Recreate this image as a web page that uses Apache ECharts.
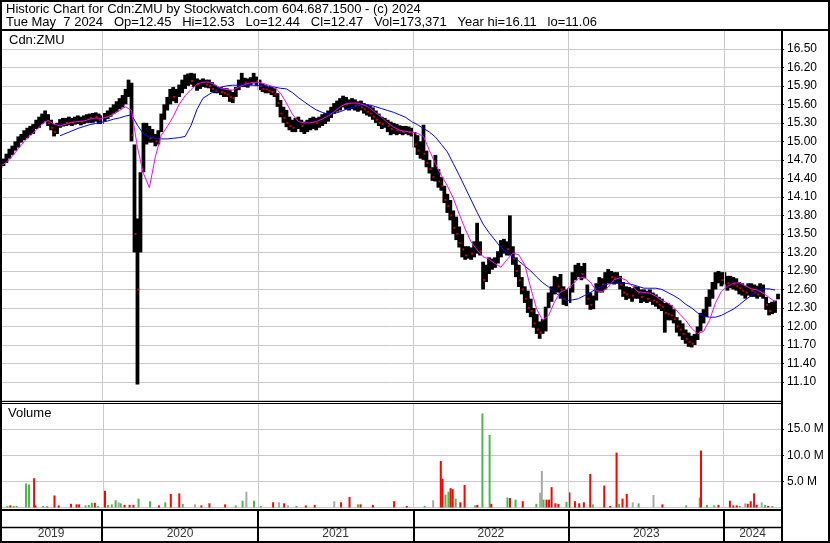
<!DOCTYPE html>
<html><head><meta charset="utf-8">
<script src="https://cdn.jsdelivr.net/npm/echarts@6/dist/echarts.min.js"></script>
<style>html,body{margin:0;padding:0;background:#fff}#c{width:830px;height:543px}</style>
</head><body><div id="c"></div>
<script>
// ---------------- DATA ----------------
const titleLine = 'Historic Chart for Cdn:ZMU by Stockwatch.com 604.687.1500 - (c) 2024';
const quoteLine = 'Tue May  7 2024   Op=12.45   Hi=12.53   Lo=12.44   Cl=12.47   Vol=173,371   Year hi=16.11   lo=11.06';
const symbolName = 'Cdn:ZMU';
const volumeName = 'Volume';
const years = ['2019','2020','2021','2022','2023','2024'];
const firstWeek = '2019-05-07';   // weekly samples, one per week
const axisStart = '2019-05-06', axisEnd = '2024-05-14';

const weekLow = [
14.57,14.60,14.65,14.72,14.78,14.85,14.90,14.98,15.02,15.05,
15.10,15.12,15.20,15.22,15.28,15.32,15.25,15.18,15.08,15.12,
15.22,15.24,15.25,15.26,15.25,15.27,15.28,15.26,15.28,15.30,
15.30,15.30,15.32,15.28,15.28,15.32,15.36,15.40,15.45,15.48,
15.52,15.55,15.60,15.72,15.00,13.20,11.06,13.20,14.50,14.95,
14.98,14.98,14.92,14.95,15.15,15.35,15.50,15.60,15.65,15.62,
15.72,15.78,15.85,15.90,15.92,15.88,15.82,15.85,15.88,15.87,
15.86,15.80,15.78,15.78,15.75,15.72,15.72,15.64,15.62,15.72,
15.83,15.88,15.88,15.87,15.91,15.94,15.90,15.83,15.80,15.78,
15.78,15.75,15.72,15.56,15.39,15.30,15.23,15.18,15.15,15.15,
15.20,15.15,15.12,15.15,15.18,15.20,15.18,15.22,15.25,15.28,
15.32,15.38,15.45,15.48,15.50,15.55,15.52,15.50,15.52,15.50,
15.48,15.50,15.45,15.42,15.40,15.35,15.30,15.25,15.20,15.22,
15.15,15.10,15.12,15.10,15.12,15.10,15.12,15.10,15.08,14.90,
14.78,14.72,14.70,14.58,14.48,14.36,14.35,14.25,14.20,14.00,
13.84,13.72,13.50,13.40,13.28,13.12,13.08,13.10,13.08,13.12,
13.18,13.15,12.60,12.72,12.85,12.92,12.95,13.02,13.12,13.18,
13.15,13.15,13.00,12.80,12.64,12.52,12.38,12.22,12.15,11.98,
11.88,11.80,11.88,11.92,12.30,12.40,12.52,12.55,12.45,12.35,
12.33,12.38,12.55,12.75,12.80,12.75,12.78,12.35,12.27,12.28,
12.42,12.55,12.55,12.60,12.70,12.70,12.68,12.70,12.60,12.48,
12.43,12.45,12.40,12.45,12.45,12.38,12.40,12.38,12.40,12.35,
12.32,12.28,12.25,11.90,12.10,12.10,12.05,11.90,11.84,11.78,
11.72,11.67,11.66,11.70,11.78,11.92,12.05,12.15,12.32,12.45,
12.60,12.70,12.65,12.68,12.58,12.62,12.60,12.58,12.52,12.50,
12.45,12.50,12.48,12.48,12.45,12.48,12.45,12.27,12.18,12.20,
12.22,12.44];
const weekHigh = [
14.68,14.72,14.80,14.88,14.93,15.00,15.08,15.12,15.18,15.22,
15.25,15.28,15.35,15.40,15.45,15.50,15.44,15.35,15.28,15.30,
15.36,15.38,15.38,15.40,15.38,15.40,15.42,15.40,15.42,15.44,
15.45,15.46,15.47,15.45,15.42,15.46,15.50,15.55,15.60,15.65,
15.70,15.75,15.85,16.00,15.95,14.95,13.75,14.50,15.30,15.30,
15.25,15.20,15.12,15.18,15.45,15.60,15.72,15.85,15.88,15.85,
15.92,16.00,16.08,16.10,16.11,16.10,16.02,16.00,16.02,16.00,
16.00,15.96,15.91,15.88,15.88,15.86,15.86,15.83,15.80,15.88,
16.00,16.11,16.03,16.02,16.04,16.11,16.05,16.00,15.94,15.91,
15.88,15.88,15.86,15.78,15.67,15.56,15.51,15.40,15.35,15.38,
15.40,15.35,15.32,15.35,15.38,15.40,15.38,15.40,15.44,15.46,
15.50,15.56,15.62,15.66,15.70,15.74,15.72,15.68,15.70,15.68,
15.65,15.66,15.62,15.60,15.58,15.55,15.50,15.45,15.40,15.38,
15.35,15.32,15.30,15.28,15.26,15.25,15.25,15.24,15.22,15.15,
15.10,15.00,15.27,14.85,14.70,14.58,14.78,14.55,14.42,14.28,
14.15,14.05,13.88,13.78,13.62,13.50,13.30,13.30,13.28,13.38,
13.68,13.38,13.05,13.00,13.12,13.10,13.12,13.22,13.40,13.42,
13.38,13.80,13.30,13.12,13.00,12.80,12.65,12.58,12.45,12.30,
12.20,12.08,12.12,12.32,12.55,12.65,12.82,12.80,12.85,12.65,
12.60,12.62,12.88,13.00,13.03,12.98,13.03,12.68,12.55,12.50,
12.70,12.80,12.78,12.88,12.93,12.90,12.88,12.88,12.82,12.72,
12.65,12.64,12.62,12.65,12.64,12.60,12.60,12.58,12.60,12.55,
12.52,12.48,12.45,12.38,12.38,12.35,12.28,12.15,12.10,12.05,
11.95,11.90,11.85,11.88,12.00,12.22,12.28,12.48,12.60,12.72,
12.88,12.90,12.88,12.88,12.82,12.82,12.80,12.78,12.72,12.70,
12.66,12.70,12.70,12.68,12.66,12.70,12.68,12.48,12.38,12.40,
12.42,12.53];
const weekClose = [
14.62,14.68,14.75,14.82,14.90,14.95,15.05,15.06,15.15,15.18,
15.20,15.25,15.30,15.35,15.40,15.42,15.30,15.22,15.15,15.25,
15.30,15.32,15.30,15.35,15.30,15.34,15.36,15.32,15.38,15.40,
15.38,15.42,15.40,15.35,15.38,15.42,15.45,15.50,15.55,15.60,
15.62,15.70,15.80,15.90,15.10,13.50,12.60,14.20,15.10,15.15,
15.05,15.10,15.00,15.15,15.40,15.55,15.65,15.78,15.72,15.78,
15.85,15.92,16.00,16.05,15.98,16.02,15.92,15.95,15.96,15.92,
15.90,15.85,15.82,15.82,15.80,15.78,15.76,15.72,15.70,15.82,
15.92,15.98,15.95,15.96,15.98,16.02,15.98,15.90,15.85,15.84,
15.82,15.80,15.76,15.62,15.45,15.38,15.30,15.25,15.22,15.28,
15.30,15.25,15.28,15.30,15.32,15.35,15.30,15.36,15.40,15.42,
15.45,15.52,15.58,15.60,15.65,15.68,15.60,15.62,15.65,15.58,
15.60,15.55,15.52,15.48,15.45,15.40,15.35,15.30,15.28,15.30,
15.25,15.20,15.22,15.18,15.20,15.15,15.20,15.15,15.12,14.95,
14.85,14.90,14.80,14.65,14.55,14.42,14.45,14.35,14.28,14.05,
13.95,13.80,13.60,13.50,13.35,13.25,13.15,13.20,13.18,13.30,
13.30,13.22,12.75,12.85,12.95,13.00,13.05,13.15,13.30,13.35,
13.25,13.30,13.10,12.90,12.75,12.60,12.45,12.30,12.25,12.05,
11.95,11.90,12.00,12.10,12.45,12.55,12.70,12.65,12.60,12.45,
12.50,12.55,12.80,12.90,12.92,12.85,12.88,12.45,12.35,12.40,
12.60,12.70,12.68,12.75,12.85,12.80,12.78,12.80,12.68,12.55,
12.52,12.55,12.50,12.58,12.55,12.48,12.52,12.45,12.50,12.42,
12.40,12.35,12.32,12.22,12.20,12.18,12.12,12.00,11.95,11.88,
11.80,11.75,11.72,11.80,11.92,12.10,12.20,12.38,12.50,12.65,
12.80,12.82,12.75,12.78,12.70,12.72,12.68,12.65,12.62,12.58,
12.55,12.62,12.58,12.55,12.52,12.60,12.55,12.35,12.25,12.28,
12.30,12.47];
// moving averages, read every second week
const maShort = [
14.60,14.66,14.76,14.88,15.00,15.10,15.18,15.28,15.34,15.28,
15.25,15.28,15.31,15.32,15.33,15.36,15.38,15.37,15.40,15.44,
15.50,15.56,15.50,14.90,14.48,14.25,14.75,15.10,15.24,15.40,
15.60,15.74,15.84,15.93,15.96,15.96,15.92,15.86,15.84,15.83,
15.88,15.92,15.95,15.96,15.94,15.91,15.88,15.78,15.62,15.44,
15.32,15.30,15.30,15.32,15.36,15.41,15.48,15.56,15.61,15.62,
15.62,15.59,15.54,15.46,15.39,15.30,15.23,15.18,15.16,15.15,
15.13,15.08,14.85,14.64,14.45,14.28,14.08,13.82,13.58,13.37,
13.24,13.13,13.09,13.02,12.96,13.08,13.19,13.16,13.00,12.62,
12.28,12.10,12.18,12.40,12.56,12.60,12.68,12.78,12.80,12.72,
12.58,12.56,12.64,12.76,12.79,12.75,12.66,12.56,12.55,12.54,
12.49,12.42,12.38,12.31,12.20,12.10,11.97,11.88,11.92,12.10,
12.38,12.57,12.65,12.70,12.71,12.66,12.61,12.59,12.54,12.47,12.40];
const maLong = [
null,null,null,null,null,null,null,null,null,null,
15.09,15.13,15.17,15.21,15.24,15.27,15.29,15.31,15.33,15.36,
15.38,15.41,15.43,15.26,15.12,15.07,15.05,15.04,15.04,15.05,
15.06,15.08,15.26,15.52,15.70,15.76,15.82,15.88,15.90,15.91,
15.91,15.91,15.91,15.91,15.90,15.89,15.88,15.86,15.85,15.79,
15.71,15.64,15.57,15.51,15.47,15.44,15.45,15.48,15.52,15.55,
15.58,15.59,15.59,15.56,15.53,15.50,15.47,15.43,15.39,15.32,
15.27,15.21,15.15,15.07,14.95,14.83,14.64,14.45,14.25,14.05,
13.85,13.66,13.52,13.40,13.28,13.20,13.13,13.06,12.98,12.90,
12.80,12.71,12.64,12.56,12.48,12.42,12.43,12.45,12.50,12.55,
12.61,12.65,12.69,12.70,12.70,12.70,12.68,12.65,12.62,12.62,
12.62,12.60,12.55,12.50,12.44,12.36,12.30,12.22,12.17,12.15,
12.15,12.18,12.23,12.28,12.35,12.43,12.50,12.56,12.61,12.61,12.59];

// volume (millions); kind: u = up day, d = down day, n = unchanged
const volDates = [
'2019-05-21','2019-05-28','2019-06-05','2019-06-12','2019-07-04','2019-07-11','2019-07-23','2019-07-26','2019-08-13','2019-08-23',
'2019-09-09','2019-09-19','2019-10-18','2019-10-31','2019-11-06','2019-11-21','2019-11-29','2019-12-06','2019-12-13','2019-12-20',
'2020-01-06','2020-01-13','2020-01-22','2020-01-31','2020-02-07','2020-02-12','2020-02-21','2020-03-04','2020-03-13','2020-03-25',
'2020-04-21','2020-05-12','2020-05-27','2020-06-09','2020-06-29','2020-07-07','2020-08-05','2020-08-20','2020-09-08','2020-10-15',
'2020-11-09','2020-11-25','2020-12-04','2020-12-22',
'2021-01-07','2021-02-05','2021-02-19','2021-03-03','2021-03-12','2021-04-01','2021-04-23','2021-05-14','2021-06-29','2021-07-15',
'2021-08-04','2021-08-24','2021-08-30','2021-09-28','2021-11-17','2021-12-17',
'2022-01-28','2022-02-17','2022-03-07','2022-03-11','2022-03-18','2022-03-25','2022-03-30','2022-04-04','2022-04-11','2022-04-22',
'2022-05-02','2022-05-27','2022-06-01','2022-06-13','2022-06-30','2022-07-04','2022-08-11','2022-08-17','2022-08-30','2022-09-16',
'2022-10-18','2022-10-27','2022-10-31','2022-11-04','2022-11-11','2022-11-17','2022-11-23','2022-12-02','2022-12-09',
'2022-12-28','2023-01-04','2023-01-17','2023-01-27','2023-02-07','2023-02-22','2023-02-28','2023-03-27','2023-04-10','2023-04-25',
'2023-05-01','2023-05-09','2023-05-19','2023-06-02','2023-06-16','2023-07-21','2023-08-11','2023-10-06','2023-11-07','2023-11-10',
'2023-11-24','2023-12-11','2023-12-21',
'2024-01-17','2024-01-25','2024-02-02','2024-02-09','2024-02-22','2024-02-28','2024-03-06','2024-03-14','2024-03-20','2024-04-01',
'2024-04-09','2024-04-16','2024-04-26'];
const volValues = [
0.3,0.4,0.3,0.3,4.6,4.4,5.6,0.4,0.3,0.2,2.3,0.4,0.7,0.6,0.6,0.4,0.5,0.9,0.9,0.3,
3.2,0.5,0.6,1.4,1.0,0.8,0.5,0.5,0.5,1.7,1.2,0.4,1.0,2.6,2.7,0.7,0.6,0.4,0.8,0.6,0.4,1.3,3.0,1.3,
0.3,1.0,1.0,0.8,0.4,0.3,0.4,0.5,1.2,1.0,2.0,0.6,0.6,0.5,1.2,0.3,
0.3,1.4,8.9,5.5,2.5,3.0,3.7,3.5,1.7,1.0,4.3,0.4,0.5,18.0,13.9,0.7,1.9,1.8,1.5,1.2,0.7,2.8,7.0,1.5,1.5,1.5,3.9,0.8,0.7,
1.1,2.9,1.2,0.8,1.0,6.4,0.6,4.2,0.3,10.5,0.7,1.7,2.6,1.0,0.8,2.4,0.6,0.4,1.9,10.9,0.5,0.4,0.5,
1.3,0.4,0.4,0.3,0.8,0.7,1.2,2.7,0.5,1.0,0.5,0.3,0.3];
const volKinds = ('uduuuuddudddddduuudu' + 'duuunuddduududdunddduunu' + 'udndnuddnddudddd' +
  'undduuddudduduudududunnuddddd' + 'uddddduddduddnunduuduud' + 'dddunddddnudu').split('');

const priceMin = 10.8, priceMax = 16.8, priceStep = 0.3;
const volMax = 20, volStep = 5;

// ---------------- BUILD ----------------
const DAY = 86400000;
const ts = s => { const p = s.split('-').map(Number); return Date.UTC(p[0], p[1]-1, p[2]); };
const t0 = ts(firstWeek);
const weekTimes = weekLow.map((_, i) => t0 + i * 7 * DAY);
const maTimes = maShort.map((_, j) => weekTimes[2 * j]);
const axisMin = ts(axisStart), axisMax = ts(axisEnd);
const yearTimes = years.map(y => ts(y + '-01-01'));
const yearBounds = yearTimes.slice(1);
const yearMids = years.map((y, i) => {
  const a = Math.max(yearTimes[i], axisMin);
  const b = i + 1 < years.length ? Math.min(yearTimes[i + 1], axisMax) : axisMax;
  return (a + b) / 2;
});
// red close ticks on weeks that closed lower than the week before
const downTicks = [];
weekTimes.forEach((t, i) => { if (i > 0 && weekClose[i] < weekClose[i - 1]) downTicks.push([t, weekClose[i]]); });

const FONT = '"Liberation Sans", Arial, sans-serif';
const kindColor = { u: '#4cb84c', d: '#ff0000', n: '#a8a8a8' };
const GRID = '#c8c8c8';

const xBase = { type: 'time', min: axisMin, max: axisMax, axisLine: {show:false}, axisTick: {show:false},
  axisLabel: {show:false}, splitLine: {show:false} };

const chart = echarts.init(document.getElementById('c'), null, { renderer: 'canvas' });
const W = 781;
chart.setOption({
  animation: false,
  backgroundColor: '#fff',
  grid: [
    { left: 0, width: W, top: 30.3, height: 370.2 },
    { left: 0, width: W, top: 403, height: 104.5 },
    { left: 0, width: W, top: 510, height: 31 }
  ],
  xAxis: [ Object.assign({gridIndex:0}, xBase), Object.assign({gridIndex:1}, xBase), Object.assign({gridIndex:2}, xBase) ],
  yAxis: [
    { gridIndex: 0, position: 'right', min: priceMin, max: priceMax, interval: priceStep,
      axisLine: {show:false}, axisTick: {show:true, length:3, lineStyle:{color:'#000'}},
      axisLabel: { color:'#000', fontSize:12, fontFamily: FONT, margin: 6, showMinLabel:false, showMaxLabel:false,
        formatter: v => v.toFixed(2) },
      splitLine: { show:true, lineStyle:{ color: GRID, width: 1 } } },
    { gridIndex: 1, position: 'right', min: 0, max: volMax, interval: volStep,
      axisLine: {show:false}, axisTick: {show:true, length:3, lineStyle:{color:'#000'}},
      axisLabel: { color:'#000', fontSize:12, fontFamily: FONT, margin: 6, showMinLabel:false, showMaxLabel:false,
        formatter: v => v.toFixed(1) + ' M' },
      splitLine: { show:true, lineStyle:{ color: GRID, width: 1 } } },
    { gridIndex: 2, min: 0, max: 1, show: false }
  ],
  series: [
    { type:'line', xAxisIndex:0, yAxisIndex:0, data: [], z: 1, silent: true,
      markLine: { silent:true, symbol:['none','none'], label:{show:false}, animation:false,
        lineStyle:{ color: GRID, width:1, type:'solid' }, data: yearBounds.map(t => ({ xAxis: t })) } },
    { type:'custom', xAxisIndex:0, yAxisIndex:0, z: 3, silent: true,
      data: weekTimes.map((t, i) => [t, weekLow[i], weekHigh[i]]),
      renderItem: (params, api) => {
        const lo = api.coord([api.value(0), api.value(1)]);
        const hi = api.coord([api.value(0), api.value(2)]);
        const w = api.size([7 * DAY, 0])[0] + 0.8;
        return { type:'rect', shape:{ x: lo[0] - w/2, y: hi[1], width: w, height: Math.max(1, lo[1] - hi[1]) },
          style:{ fill:'#000' } };
      } },
    { type:'scatter', xAxisIndex:0, yAxisIndex:0, z: 4, silent: true, symbol:'rect', symbolSize:[2,2],
      symbolOffset:[1,0], itemStyle:{ color:'#ff0000' }, data: downTicks },
    { type:'line', xAxisIndex:0, yAxisIndex:0, z: 5, silent: true, symbol:'none', color:'#0000ff',
      lineStyle:{ width:1, color:'#0000ff' }, data: maTimes.map((t, j) => [t, maLong[j]]) },
    { type:'line', xAxisIndex:0, yAxisIndex:0, z: 6, silent: true, symbol:'none', color:'#ff00ff',
      lineStyle:{ width:1, color:'#ff00ff' }, data: maTimes.map((t, j) => [t, maShort[j]]) },
    { type:'line', xAxisIndex:1, yAxisIndex:1, data: [], z: 1, silent: true,
      markLine: { silent:true, symbol:['none','none'], label:{show:false}, animation:false,
        lineStyle:{ color: GRID, width:1, type:'solid' }, data: yearBounds.map(t => ({ xAxis: t })) } },
    { type:'bar', xAxisIndex:1, yAxisIndex:1, z: 3, silent: true, barWidth: 2, barGap: '-100%',
      data: volDates.map((d, i) => ({ value: [ts(d), volValues[i]], itemStyle:{ color: kindColor[volKinds[i]] } })) },
    { type:'scatter', xAxisIndex:2, yAxisIndex:2, z: 3, silent: true, symbolSize: 1,
      itemStyle:{ color:'rgba(0,0,0,0)' },
      label:{ show:true, position:'inside', color:'#000', fontSize:12, fontFamily: FONT, formatter: p => p.data[2] },
      data: years.map((y, i) => [yearMids[i], 0.22, y]),
      markLine: { silent:true, symbol:['none','none'], label:{show:false}, animation:false,
        lineStyle:{ color:'#000', width:2, type:'solid' }, data: yearBounds.map(t => ({ xAxis: t })) } }
  ],
  graphic: [
    { type:'rect', z: 100, silent:true, shape:{ x:1, y:1, width:828, height:541 }, style:{ fill:'none', stroke:'#000', lineWidth:2 } },
    { type:'line', z: 100, silent:true, shape:{ x1:0, y1:30, x2:830, y2:30 }, style:{ stroke:'#000', lineWidth:2 } },
    { type:'line', z: 100, silent:true, shape:{ x1:782, y1:30, x2:782, y2:543 }, style:{ stroke:'#000', lineWidth:2 } },
    { type:'line', z: 100, silent:true, shape:{ x1:0, y1:401.5, x2:782, y2:401.5 }, style:{ stroke:'#000', lineWidth:1 } },
    { type:'line', z: 100, silent:true, shape:{ x1:0, y1:403.5, x2:782, y2:403.5 }, style:{ stroke:'#000', lineWidth:1 } },
    { type:'line', z: 100, silent:true, shape:{ x1:0, y1:510, x2:782, y2:510 }, style:{ stroke:'#000', lineWidth:2 } },
    { type:'line', z: 100, silent:true, shape:{ x1:0, y1:527.5, x2:782, y2:527.5 }, style:{ stroke:'#000', lineWidth:1.5 } },
    { type:'text', z: 100, silent:true, style:{ text: titleLine, x:6, y:9.5, verticalAlign:'middle', fill:'#000', font:'13px ' + FONT } },
    { type:'text', z: 100, silent:true, style:{ text: quoteLine, x:6, y:22.8, verticalAlign:'middle', fill:'#000', font:'13px ' + FONT } },
    { type:'text', z: 100, silent:true, style:{ text: symbolName, x:9, y:40.5, verticalAlign:'middle', fill:'#000', font:'13px ' + FONT } },
    { type:'text', z: 100, silent:true, style:{ text: volumeName, x:8, y:413, verticalAlign:'middle', fill:'#000', font:'13px ' + FONT } }
  ]
});
</script>
</body></html>
